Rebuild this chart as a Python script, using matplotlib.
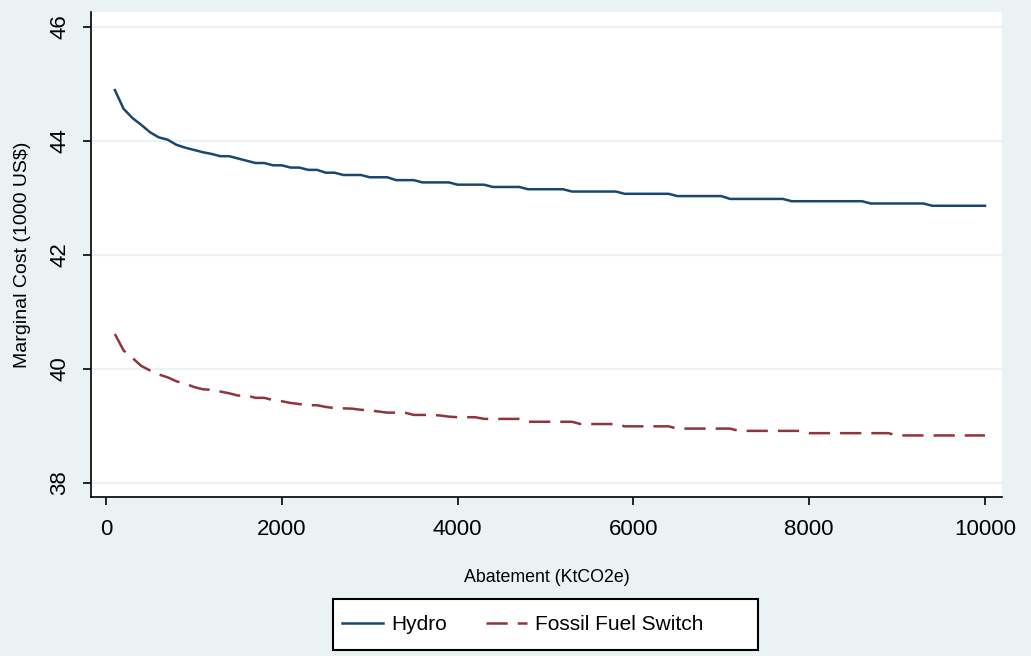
import matplotlib.pyplot as plt
from matplotlib.patches import Rectangle

plt.rcParams['font.family'] = ['Liberation Sans', 'DejaVu Sans']

# hydro curve (vertices of the staircase)
hydro_x = [100, 200, 300, 400, 500, 600, 700, 800, 900, 1000,
           1100, 1200, 1300, 1400, 1500, 1600, 1700, 1800, 1900, 2000,
           2100, 2200, 2300, 2400, 2500, 2600, 2700, 2900, 3000, 3200,
           3300, 3500, 3600, 3900, 4000, 4300, 4400, 4700, 4800, 5200,
           5300, 5800, 5900, 6400, 6500, 7000, 7100, 7700, 7800, 8600,
           8700, 9300, 9400, 10000]
hydro_y = [44.89, 44.56, 44.40, 44.28, 44.15, 44.06, 44.02, 43.93, 43.88, 43.84,
           43.80, 43.77, 43.73, 43.73, 43.69, 43.65, 43.61, 43.61, 43.57, 43.57,
           43.53, 43.53, 43.49, 43.49, 43.44, 43.44, 43.40, 43.40, 43.36, 43.36,
           43.31, 43.31, 43.27, 43.27, 43.23, 43.23, 43.19, 43.19, 43.15, 43.15,
           43.11, 43.11, 43.07, 43.07, 43.03, 43.03, 42.98, 42.98, 42.94, 42.94,
           42.90, 42.90, 42.86, 42.86]

# fossil fuel switch curve
fossil_x = [100, 200, 300, 400, 500, 600, 700, 800, 900, 1000,
            1100, 1200, 1300, 1400, 1500, 1600, 1700, 1800, 1900, 2000,
            2100, 2200, 2300, 2400, 2500, 2600, 2800, 2900, 3000, 3100,
            3200, 3400, 3500, 3700, 3800, 3900, 4000, 4200, 4300, 4700,
            4800, 5300, 5400, 5800, 5900, 6400, 6500, 7100, 7200, 7900,
            8000, 8900, 9000, 10000]
fossil_y = [40.61, 40.32, 40.19, 40.05, 39.97, 39.90, 39.85, 39.78, 39.74, 39.68,
            39.64, 39.63, 39.60, 39.57, 39.53, 39.53, 39.49, 39.49, 39.45, 39.43,
            39.40, 39.38, 39.36, 39.36, 39.33, 39.31, 39.30, 39.28, 39.27, 39.25,
            39.23, 39.23, 39.19, 39.19, 39.18, 39.16, 39.15, 39.15, 39.12, 39.12,
            39.07, 39.07, 39.03, 39.03, 38.99, 38.99, 38.95, 38.95, 38.91, 38.91,
            38.87, 38.87, 38.83, 38.83]

xticks = [0, 2000, 4000, 6000, 8000, 10000]
yticks = [38, 40, 42, 44, 46]

bg = '#EAF2F3'
fig = plt.figure(figsize=(10.31, 6.56), dpi=100, facecolor=bg)
ax = fig.add_axes([0.0883, 0.2424, 0.8836, 0.7393])
ax.set_facecolor('white')

ax.plot(hydro_x, hydro_y, color='#1A476F', lw=1.8, label='Hydro')
ax.plot(fossil_x, fossil_y, color='#90353B', lw=1.8, dashes=(8.5, 4),
        label='Fossil Fuel Switch')

ax.set_xlim(-171, 10194)
ax.set_ylim(37.75, 46.26)
ax.set_xticks(xticks)
ax.set_yticks(yticks)
ax.grid(axis='y', color=bg, lw=1.6)
ax.set_axisbelow(True)

for s in ['top', 'right']:
    ax.spines[s].set_visible(False)
for s in ['left', 'bottom']:
    ax.spines[s].set_linewidth(1.2)

ax.tick_params(axis='both', labelsize=16, length=6, width=1.2, direction='out')
ax.tick_params(axis='x', pad=10)
ax.tick_params(axis='y', pad=9)
for lab in ax.get_yticklabels():
    lab.set_rotation(90)
    lab.set_va('center')

ax.set_xlabel('Abatement (KtCO2e)', fontsize=12.8, labelpad=21)
ax.set_ylabel('Marginal Cost (1000 US$)', fontsize=14, labelpad=13)

# legend box like Stata's (extra room on the right)
fig.patches.append(Rectangle((333 / 1031, 6 / 656), 425 / 1031, 51 / 656,
                             transform=fig.transFigure, facecolor='white',
                             edgecolor='black', lw=1.5, zorder=1))
leg = fig.legend(loc='center left', bbox_to_anchor=(342 / 1031, 0.048), ncol=2,
                 fontsize=15, frameon=False, handlelength=1.95,
                 handletextpad=0.4, columnspacing=1.9,
                 borderpad=0, borderaxespad=0)

fig.savefig('out.png', dpi=100, facecolor=bg)
